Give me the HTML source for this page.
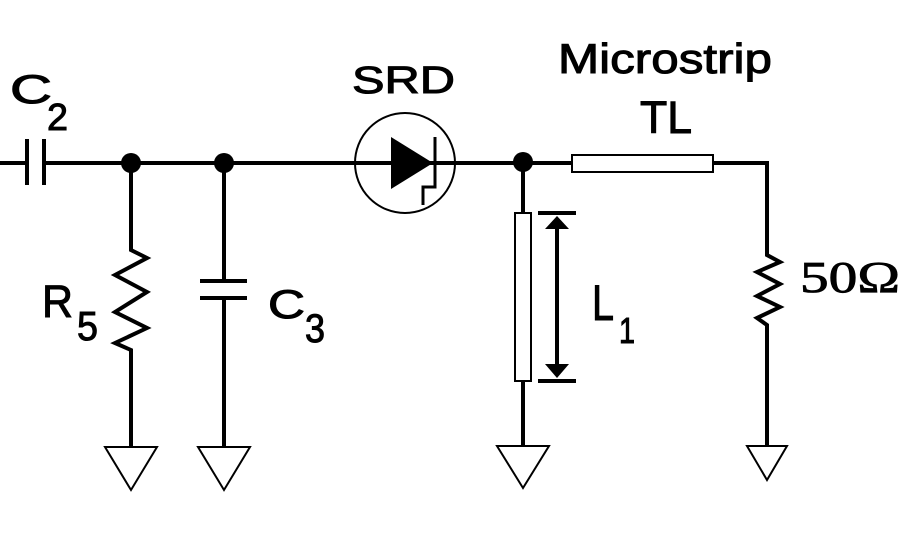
<!DOCTYPE html>
<html><head><meta charset="utf-8"><style>html,body{margin:0;padding:0;background:#fff}svg{display:block}</style></head>
<body>
<svg width="908" height="550" viewBox="0 0 908 550" xmlns="http://www.w3.org/2000/svg">
<g fill="none" stroke="#000" stroke-width="4">
<line x1="0" y1="163" x2="27" y2="163"/>
<line x1="44" y1="163" x2="572" y2="163"/>
<line x1="27" y1="139" x2="27" y2="185"/>
<line x1="44" y1="139" x2="44" y2="185"/>
<polyline points="131,163 131,250 147,258 115,275 147,292 115,312 147,328 115,343 131,350 131,447"/>
<line x1="224" y1="163" x2="224" y2="281"/>
<line x1="200" y1="281" x2="247" y2="281"/>
<line x1="200" y1="298" x2="247" y2="298"/>
<line x1="224" y1="298" x2="224" y2="447"/>
<line x1="523" y1="163" x2="523" y2="213"/>
<line x1="523" y1="381" x2="523" y2="446"/>
<polyline points="713,163 767,163 767,255 780,262 757,272 780,284 757,296 780,307 757,318 767,325 767,446"/>
<line x1="538" y1="213" x2="576" y2="213"/>
<line x1="538" y1="381" x2="576" y2="381"/>
<line x1="557" y1="228" x2="557" y2="366"/>
</g>
<g fill="#000">
<polygon points="557,216 545,229 569,229"/>
<polygon points="557,378 545,364 569,364"/>
<circle cx="131" cy="163" r="10"/>
<circle cx="224" cy="163" r="10"/>
<circle cx="523" cy="162" r="10"/>
<polygon points="391,137 391,189 433,163"/>
</g>
<circle cx="405" cy="163" r="50" fill="none" stroke="#000" stroke-width="2"/>
<polyline points="435,137 435,187 423,187 423,205" fill="none" stroke="#000" stroke-width="3"/>
<rect x="572" y="155" width="141" height="17" fill="#fff" stroke="#000" stroke-width="2"/>
<rect x="515" y="213" width="16" height="168" fill="#fff" stroke="#000" stroke-width="2"/>
<g fill="#fff" stroke="#000" stroke-width="2">
<polygon points="105,447 157,447 131,490"/>
<polygon points="198,447 250,447 224,490"/>
<polygon points="497,446 549,446 523,488"/>
<polygon points="747,446 787,446 767,480"/>
</g>
<g font-family="Liberation Sans, Arial, sans-serif" fill="#000" stroke="#000" stroke-width="1">
<text x="10" y="103" font-size="40" textLength="42" lengthAdjust="spacingAndGlyphs">C</text>
<text x="47" y="130" font-size="38" textLength="21" lengthAdjust="spacingAndGlyphs">2</text>
<text x="352" y="93" font-size="38" textLength="103" lengthAdjust="spacingAndGlyphs">SRD</text>
<text x="558" y="73" font-size="42" textLength="214" lengthAdjust="spacingAndGlyphs">Microstrip</text>
<text x="640" y="133" font-size="45" textLength="52" lengthAdjust="spacingAndGlyphs">TL</text>
<text x="42" y="317" font-size="45" textLength="31" lengthAdjust="spacingAndGlyphs">R</text>
<text x="77" y="340" font-size="41" textLength="21" lengthAdjust="spacingAndGlyphs">5</text>
<text x="268" y="318" font-size="40" textLength="37" lengthAdjust="spacingAndGlyphs">C</text>
<text x="305" y="342" font-size="40" textLength="20" lengthAdjust="spacingAndGlyphs">3</text>
<text x="592" y="320" font-size="50" textLength="22" lengthAdjust="spacingAndGlyphs">L</text>
<text x="619" y="343" font-size="36" textLength="16" lengthAdjust="spacingAndGlyphs">1</text>
</g>
<text x="800" y="292" font-family="Liberation Serif, Times New Roman, serif" font-size="44" stroke="#000" stroke-width="0.8" textLength="100" lengthAdjust="spacingAndGlyphs">50Ω</text>
</svg>
</body></html>
